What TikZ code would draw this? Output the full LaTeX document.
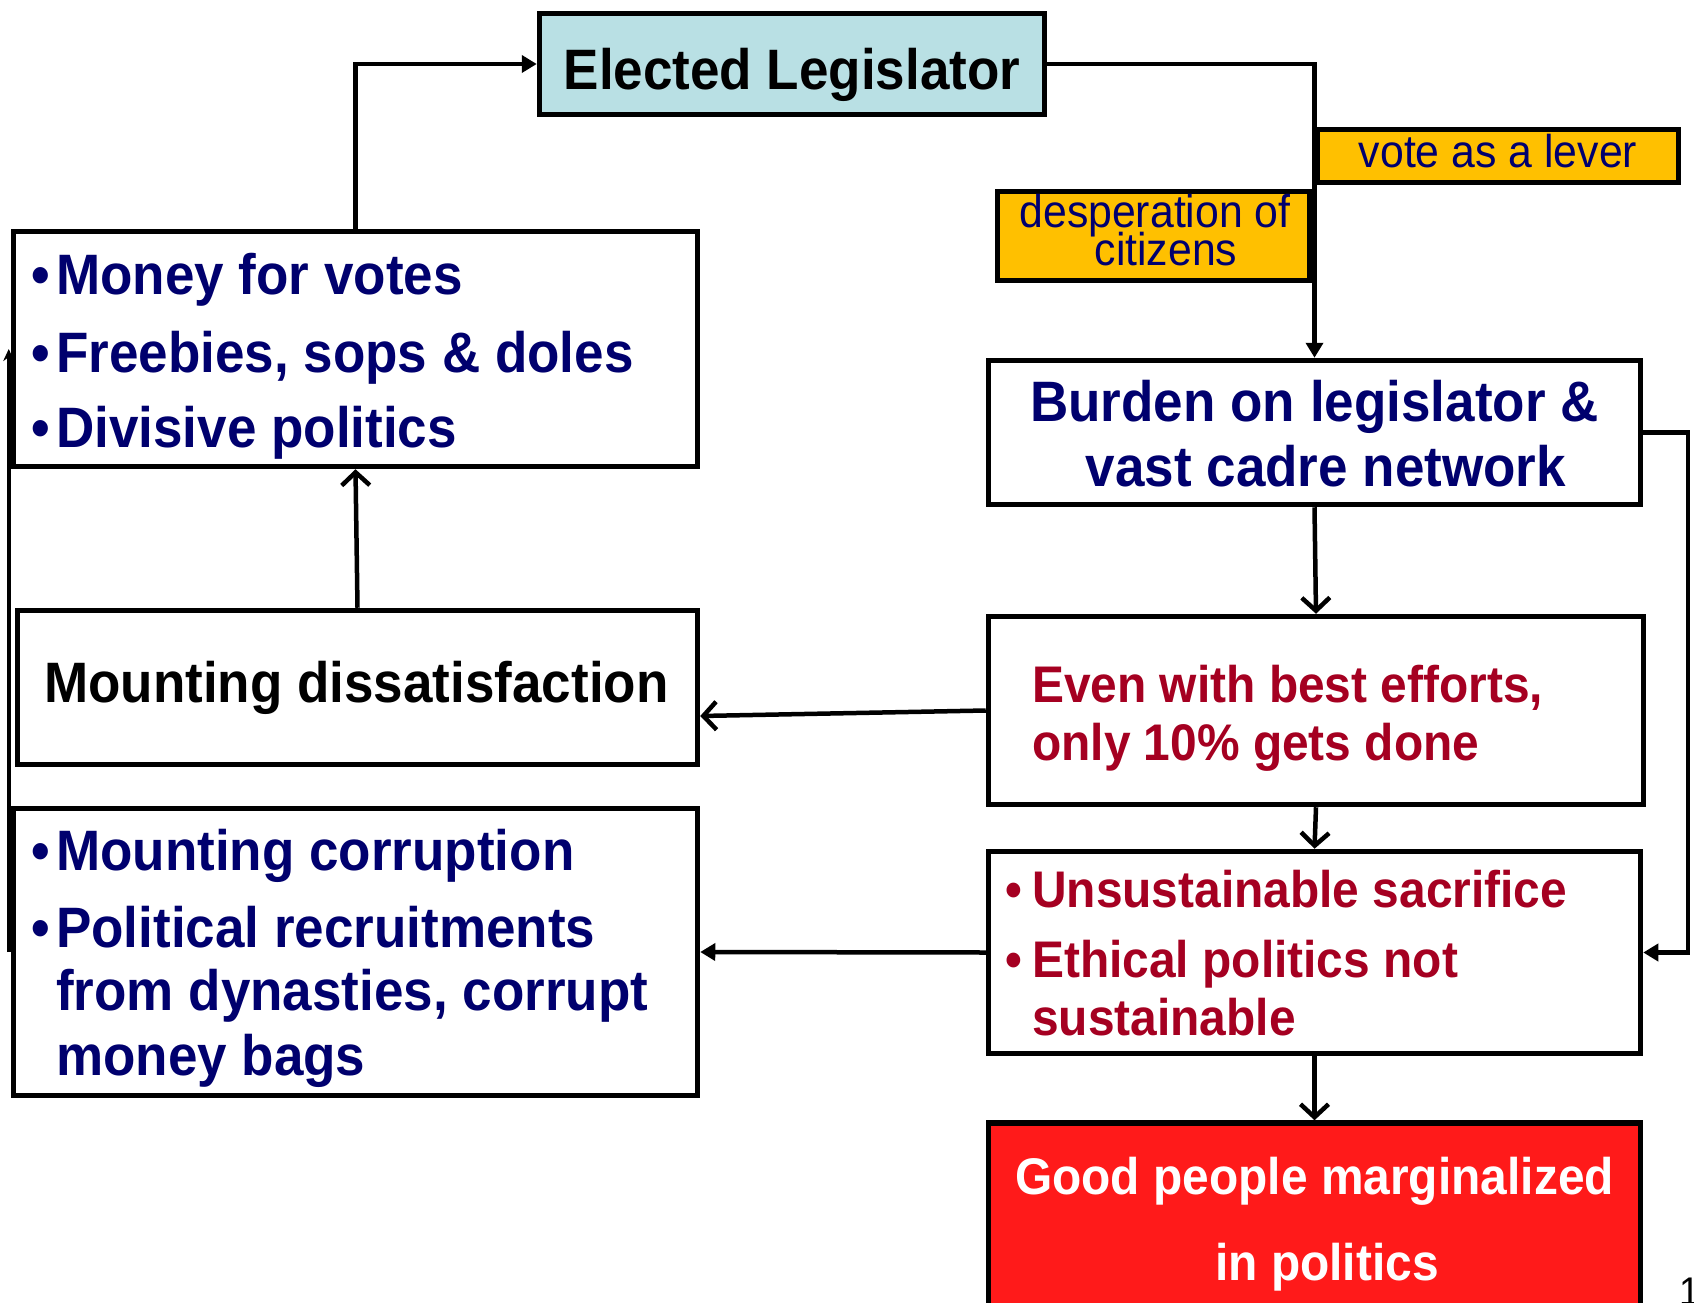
\documentclass[tikz,border=0pt]{standalone}
\usepackage{fontspec}
\setmainfont{Liberation Sans}[FakeStretch=0.93]
\usetikzlibrary{arrows.meta,calc}
\definecolor{navy}{RGB}{0,0,110}
\definecolor{wine}{RGB}{165,0,33}
\definecolor{paleblue}{RGB}{185,224,228}
\definecolor{amber}{RGB}{255,192,0}
\definecolor{brightred}{RGB}{255,26,26}
\begin{document}
\begin{tikzpicture}[x=1pt,y=-1pt,
  box/.style={draw=black,line width=5.5pt,fill=white,inner sep=0pt},
  conn/.style={line width=4.5pt,black},
  openhead/.style={-{Straight Barb[length=13pt,width=28pt,line width=4.5pt]}},
  fillhead/.style={-{Triangle[length=15pt,width=17pt]}},
  smallhead/.style={-{Stealth[length=12pt,width=11pt]}},
  txt/.style={inner sep=0pt,anchor=base west},
  ctxt/.style={inner sep=0pt,anchor=base},
  big/.style={font=\fontsize{57}{60}\selectfont\bfseries},
  mid/.style={font=\fontsize{51.5}{55}\selectfont\bfseries},
  lab/.style={font=\fontsize{46}{46}\selectfont}
]
\useasboundingbox (0,0) rectangle (1694,1303);
\fill[white] (0,0) rectangle (1694,1303);

% boxes
\node[box,fill=paleblue,minimum width=505pt,minimum height=101pt] (elected) at (792,64) {};
\node[box,minimum width=684pt,minimum height=235pt] (money) at (355.5,349) {};
\node[box,minimum width=680pt,minimum height=154pt] (dissat) at (357.5,687.5) {};
\node[box,minimum width=684pt,minimum height=287pt] (corr) at (355.5,952) {};
\node[box,fill=amber,minimum width=361pt,minimum height=53pt] (vote) at (1498,156) {};
\node[box,fill=amber,minimum width=312pt,minimum height=89pt] (desp) at (1153.5,236) {};
\node[box,minimum width=652pt,minimum height=144pt] (burden) at (1314.5,432.5) {};
\node[box,minimum width=655pt,minimum height=188pt] (even) at (1316,710.5) {};
\node[box,minimum width=652pt,minimum height=202pt] (unsust) at (1314.5,952.5) {};
\node[box,fill=brightred,minimum width=652pt,minimum height=205pt] (good) at (1314.5,1225.5) {};

% connectors
\draw[conn,fillhead] (money.north) |- (elected.west);
\draw[conn,fillhead] (elected.east) -| (burden.north);
\draw[conn,openhead] (dissat.north) -- (money.south);
\draw[conn,openhead] (burden.south) -- (even.north);
\draw[conn,openhead] (even.west) -- ([yshift=-28.5pt]dissat.east);
\draw[conn,openhead] (even.south) -- (unsust.north);
\draw[conn,fillhead] (unsust.west) -- (corr.east);
\draw[conn,openhead] (unsust.south) -- (good.north);
\coordinate (loop) at (1688,952.5);
\draw[conn,fillhead] (burden.east) -| (loop) -- (unsust.east);
\draw[line width=3.5pt,smallhead] ([xshift=-2pt]corr.west) -- ([xshift=-2pt]money.west);

% texts
\node[ctxt,big,black] (tEl) at (792,90) {Elected Legislator};

\node[txt,big,navy] (b1) at (31,294) {•};
\node[txt,big,navy] (m1) at (56,294) {Money for votes};
\node[txt,big,navy] (b2) at (31,372) {•};
\node[txt,big,navy] (m2) at (56,372) {Freebies, sops \& doles};
\node[txt,big,navy] (b3) at (31,447) {•};
\node[txt,big,navy] (m3) at (56,447) {Divisive politics};

\node[txt,big,black] (d1) at (44,702) {Mounting dissatisfaction};

\node[txt,big,navy] (b4) at (31,870) {•};
\node[txt,big,navy] (c1) at (56,870) {Mounting corruption};
\node[txt,big,navy] (b5) at (31,947) {•};
\node[txt,big,navy] (c2) at (56,947) {Political recruitments};
\node[txt,big,navy] (c3) at (56,1010) {from dynasties, corrupt};
\node[txt,big,navy] (c4) at (56,1075) {money bags};

\node[ctxt,lab,navy] (v1) at (1498,167) {vote as a lever};
\node[ctxt,lab,navy] (p1) at (1155,227) {desperation of};
\node[ctxt,lab,navy] (p2) at (1166,265) {citizens};

\node[ctxt,big,navy] (u1) at (1314.5,421) {Burden on legislator \&};
\node[ctxt,big,navy] (u2) at (1326,486) {vast cadre network};

\node[txt,mid,wine] (e1) at (1032,702) {Even with best efforts,};
\node[txt,mid,wine] (e2) at (1032,760) {only 10\% gets done};

\node[txt,mid,wine] (b6) at (1005,907) {•};
\node[txt,mid,wine] (s1) at (1032,907) {Unsustainable sacrifice};
\node[txt,mid,wine] (b7) at (1005,977) {•};
\node[txt,mid,wine] (s2) at (1032,977) {Ethical politics not};
\node[txt,mid,wine] (s3) at (1032,1035) {sustainable};

\node[ctxt,mid,white] (g1) at (1314.5,1194) {Good people marginalized};
\node[ctxt,mid,white] (g2) at (1327,1280) {in politics};

\node[txt,font=\fontsize{40}{40}\selectfont] (pg) at (1679,1305) {1};
\end{tikzpicture}
\end{document}
